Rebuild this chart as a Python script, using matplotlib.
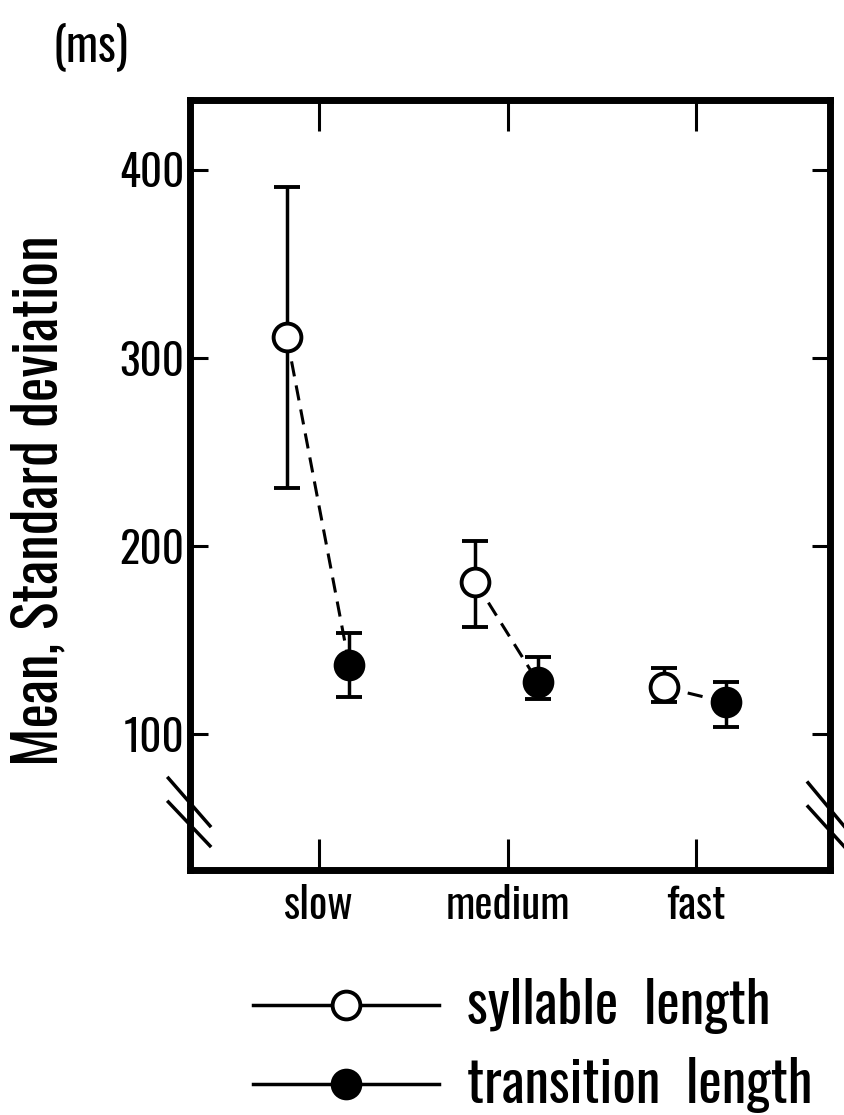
import numpy as np
import matplotlib.pyplot as plt
from matplotlib.lines import Line2D

plt.rcParams['font.family'] = ['Oswald', 'DejaVu Sans']

speeds = ['slow', 'medium', 'fast']

# syllable length: mean and SD (lower / upper arm)
syl_mean = [311, 181, 125]
syl_err_lo = [80, 24, 8]
syl_err_hi = [80, 22, 10]

# transition length
tra_mean = [137, 128, 117]
tra_err_lo = [17, 9, 13]
tra_err_hi = [17, 13, 11]

yticks = [100, 200, 300, 400]

x = np.arange(1, len(speeds) + 1)
xs = x - 0.17
xt = x + 0.16

fig = plt.figure(figsize=(8.45, 11.15), dpi=100)
ax = fig.add_axes([0.225, 0.22, 0.757, 0.69])

# dashed links between the two means of each speed
for i in range(len(speeds)):
    ax.plot([xs[i], xt[i]], [syl_mean[i], tra_mean[i]], color='black', lw=2.2,
            ls='--', dashes=(5, 3), zorder=2)

ax.errorbar(xs, syl_mean, yerr=[syl_err_lo, syl_err_hi], fmt='o', ms=20,
            mfc='white', mec='black', mew=2.8, ecolor='black', elinewidth=2.5,
            capsize=9.5, capthick=3, zorder=3)
ax.errorbar(xt, tra_mean, yerr=[tra_err_lo, tra_err_hi], fmt='o', ms=20,
            mfc='black', mec='black', mew=2.8, ecolor='black', elinewidth=2.5,
            capsize=9.5, capthick=3, zorder=3)

ax.set_xlim(0.316, 3.71)
ax.set_ylim(28, 437)
ax.set_xticks(x)
ax.set_xticklabels(speeds, fontsize=31)
ax.set_yticks(yticks)
ax.set_yticklabels([str(v) for v in yticks], fontsize=31)

for s in ax.spines.values():
    s.set_linewidth(5)
ax.tick_params(axis='x', direction='in', top=True, length=22, width=2.2, pad=10)
ax.tick_params(axis='y', direction='in', right=True, length=13, width=2.2, pad=4)

ax.set_ylabel('Mean, Standard deviation', fontsize=42)
ax.yaxis.set_label_coords(-0.19, 0.48)
ax.text(-0.156, 1.07, '(ms)', transform=ax.transAxes, fontsize=34,
        ha='center', va='center')

# axis break marks on both vertical spines
ax.plot([-0.034, 0.031], [0.119, 0.057], transform=ax.transAxes, color='black',
        lw=2.5, clip_on=False)
ax.plot([-0.034, 0.031], [0.088, 0.031], transform=ax.transAxes, color='black',
        lw=2.5, clip_on=False)
ax.plot([0.966, 1.027], [0.113, 0.052], transform=ax.transAxes, color='black',
        lw=2.5, clip_on=False)
ax.plot([0.966, 1.027], [0.082, 0.026], transform=ax.transAxes, color='black',
        lw=2.5, clip_on=False)

handles = [
    Line2D([], [], color='black', lw=2.5, marker='o', ms=20, mfc='white',
           mec='black', mew=2.8),
    Line2D([], [], color='black', lw=2.5, marker='o', ms=20, mfc='black',
           mec='black', mew=2.8),
]
fig.legend(handles, ['syllable  length', 'transition  length'], loc='upper left',
           bbox_to_anchor=(253 / 845, 1 - 978 / 1115), frameon=False,
           fontsize=40, numpoints=1, handlelength=3.35, handletextpad=0.5,
           labelspacing=0.42, borderpad=0, borderaxespad=0)

fig.savefig('out.png', dpi=100)
